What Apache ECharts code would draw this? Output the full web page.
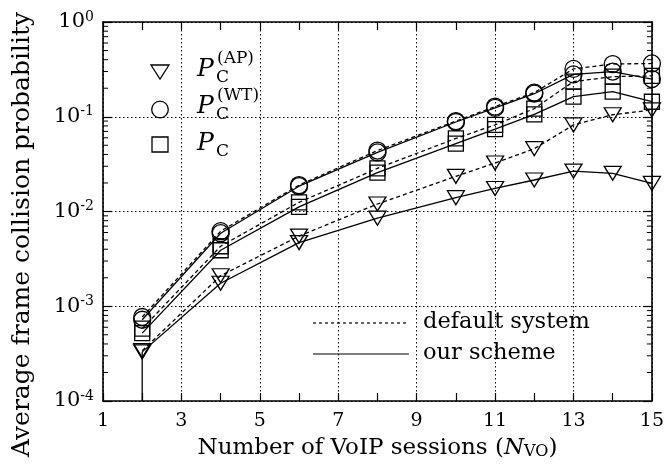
<!DOCTYPE html>
<html>
<head>
<meta charset="utf-8">
<script src="https://cdn.jsdelivr.net/npm/echarts@6/dist/echarts.min.js"></script>
<style>html,body{margin:0;padding:0;background:#fff}#c{width:667px;height:475px}</style>
</head>
<body>
<div id="c"></div>
<script>
// ---- data ----
const nSessions = [2, 4, 6, 8, 10, 11, 12, 13, 14, 15];
const apDefault = [3.4e-4, 2.1e-3, 5.5e-3, 1.2e-2, 2.35e-2, 3.25e-2, 4.6e-2, 8.2e-2, 0.105, 0.118];
const apOurs    = [3.3e-4, 1.75e-3, 4.7e-3, 8.5e-3, 1.4e-2, 1.75e-2, 2.15e-2, 2.67e-2, 2.53e-2, 1.98e-2];
const wtDefault = [7.7e-4, 6.2e-3, 1.9e-2, 4.4e-2, 9.0e-2, 0.128, 0.18, 0.32, 0.36, 0.365];
const wtOurs    = [7.2e-4, 5.9e-3, 1.85e-2, 4.2e-2, 8.8e-2, 0.124, 0.175, 0.28, 0.30, 0.25];
const pcDefault = [5.8e-4, 4.3e-3, 1.25e-2, 2.85e-2, 5.9e-2, 8.2e-2, 0.122, 0.235, 0.265, 0.27];
const pcOurs    = [5.2e-4, 3.9e-3, 1.12e-2, 2.57e-2, 5.2e-2, 7.4e-2, 0.106, 0.163, 0.184, 0.144];
const xTicks = [1, 3, 5, 7, 9, 11, 13, 15];
const yMin = 1e-4, yMax = 1;
const decades = [1e-4, 1e-3, 1e-2, 1e-1];
const minorMult = [2, 3, 4, 5, 6, 7, 8, 9];

const FONT = '"DejaVu Serif", "Liberation Serif", serif';
const BLACK = '#000';
const pairs = (ys) => nSessions.map((x, i) => [x, ys[i]]);
const minorVals = [];
decades.forEach(d => minorMult.forEach(m => minorVals.push([xTicks[0], d * m])));

const chart = echarts.init(document.getElementById('c'), null, {renderer: 'canvas'});

const tri = {symbol: 'triangle', symbolRotate: 180, symbolSize: [17, 14]};
const cir = {symbol: 'circle', symbolSize: 17};
const sq  = {symbol: 'rect', symbolSize: 15};
function mk(name, ys, sym, dashed) {
  return Object.assign({
    type: 'line', name, data: pairs(ys),
    xAxisIndex: 0, yAxisIndex: 0,
    lineStyle: {color: BLACK, width: 1.3, type: dashed ? [4, 3] : 'solid'},
    itemStyle: {color: 'rgba(0,0,0,0)', borderColor: BLACK, borderWidth: 1.3},
    emphasis: {disabled: true}, z: 3
  }, sym);
}

const axisLineStyle = {color: BLACK, width: 1.6};
const option = {
  animation: false,
  backgroundColor: '#fff',
  grid: {left: 103, right: 14, top: 22, bottom: 74, containLabel: false},
  xAxis: [
    {
      type: 'value', min: xTicks[0], max: xTicks[xTicks.length - 1], interval: 2, position: 'bottom',
      axisLine: {show: true, lineStyle: axisLineStyle},
      axisTick: {show: true, inside: true, length: 8, lineStyle: {color: BLACK, width: 1.2}},
      minorTick: {show: true, splitNumber: 2, length: 8, lineStyle: {color: BLACK, width: 1.2}},
      axisLabel: {color: BLACK, fontSize: 19, fontFamily: FONT, margin: 11},
      splitLine: {show: true, lineStyle: {color: BLACK, width: 1, type: [1.5, 2.5]}},
      name: 'Number of VoIP sessions ({it|N}{sub|VO})',
      nameLocation: 'middle', nameGap: 35,
      nameTextStyle: {color: BLACK, fontSize: 23, fontFamily: FONT,
        rich: {
          it: {fontSize: 23, fontFamily: FONT, fontStyle: 'italic', color: BLACK},
          sub: {fontSize: 16, fontFamily: FONT, color: BLACK, verticalAlign: 'bottom', padding: [8, 0, 0, 0]}
        }}
    },
    {
      type: 'value', min: xTicks[0], max: xTicks[xTicks.length - 1], interval: 2, position: 'top',
      axisLine: {show: true, lineStyle: axisLineStyle},
      axisTick: {show: true, inside: true, length: 8, lineStyle: {color: BLACK, width: 1.2}},
      minorTick: {show: true, splitNumber: 2, length: 8, lineStyle: {color: BLACK, width: 1.2}},
      axisLabel: {show: false}, splitLine: {show: false}
    }
  ],
  yAxis: [
    {
      type: 'log', logBase: 10, min: yMin, max: yMax, position: 'left',
      axisLine: {show: true, lineStyle: axisLineStyle},
      axisTick: {show: true, inside: true, length: 9, lineStyle: {color: BLACK, width: 1.2}},
      axisLabel: {
        color: BLACK, fontSize: 21, fontFamily: FONT, margin: 9,
        formatter: (v) => '10{sup|' + Math.round(Math.log10(v)) + '}',
        rich: {sup: {fontSize: 14, fontFamily: FONT, color: BLACK, verticalAlign: 'top', padding: [0, 0, 10, 0]}}
      },
      splitLine: {show: true, lineStyle: {color: BLACK, width: 1, type: [1.5, 2.5]}},
      name: 'Average frame collision probability',
      nameLocation: 'middle', nameGap: 68,
      nameTextStyle: {color: BLACK, fontSize: 25, fontFamily: FONT, padding: [0, 46, 0, 0]}
    },
    {
      type: 'log', logBase: 10, min: yMin, max: yMax, position: 'right',
      axisLine: {show: true, lineStyle: axisLineStyle},
      axisTick: {show: true, inside: true, length: 9, lineStyle: {color: BLACK, width: 1.2}},
      axisLabel: {show: false}, splitLine: {show: false}
    }
  ],
  series: [
    {
      type: 'custom', coordinateSystem: 'cartesian2d', xAxisIndex: 0, yAxisIndex: 0,
      data: minorVals, silent: true, clip: false, z: 2,
      renderItem: (params, api) => {
        const v = api.value(1);
        const l = api.coord([xTicks[0], v]);
        const r = api.coord([xTicks[xTicks.length - 1], v]);
        const st = {stroke: BLACK, lineWidth: 1};
        return {type: 'group', children: [
          {type: 'line', shape: {x1: l[0], y1: l[1], x2: l[0] + 5, y2: l[1]}, style: st},
          {type: 'line', shape: {x1: r[0] - 5, y1: r[1], x2: r[0], y2: r[1]}, style: st}
        ]};
      }
    },
    {
      type: 'line', name: 'drop', data: [[nSessions[0], yMin], [nSessions[0], apOurs[0]]],
      symbol: 'none', lineStyle: {color: BLACK, width: 1.3}, z: 3, emphasis: {disabled: true}
    },
    mk('AP default', apDefault, tri, true),
    mk('AP ours', apOurs, tri, false),
    mk('WT default', wtDefault, cir, true),
    mk('WT ours', wtOurs, cir, false),
    mk('PC default', pcDefault, sq, true),
    mk('PC ours', pcOurs, sq, false)
  ],
  graphic: [
    // marker legend
    {type: 'polygon', shape: {points: [[151, 65], [169, 65], [160, 79]]}, style: {fill: 'none', stroke: BLACK, lineWidth: 1.3}},
    {type: 'circle', shape: {cx: 160, cy: 109.5, r: 8.3}, style: {fill: 'none', stroke: BLACK, lineWidth: 1.3}},
    {type: 'rect', shape: {x: 152, y: 137, width: 16, height: 15}, style: {fill: 'none', stroke: BLACK, lineWidth: 1.3}},
    {type: 'text', x: 197, y: 69, style: {text: 'P', font: 'italic 25px ' + FONT, fill: BLACK, verticalAlign: 'middle'}},
    {type: 'text', x: 216, y: 78, style: {text: 'C', font: '17px ' + FONT, fill: BLACK, verticalAlign: 'middle'}},
    {type: 'text', x: 217, y: 59, style: {text: '(AP)', font: '17px ' + FONT, fill: BLACK, verticalAlign: 'middle'}},
    {type: 'text', x: 197, y: 106, style: {text: 'P', font: 'italic 25px ' + FONT, fill: BLACK, verticalAlign: 'middle'}},
    {type: 'text', x: 216, y: 115, style: {text: 'C', font: '17px ' + FONT, fill: BLACK, verticalAlign: 'middle'}},
    {type: 'text', x: 217, y: 96, style: {text: '(WT)', font: '17px ' + FONT, fill: BLACK, verticalAlign: 'middle'}},
    {type: 'text', x: 197, y: 143, style: {text: 'P', font: 'italic 25px ' + FONT, fill: BLACK, verticalAlign: 'middle'}},
    {type: 'text', x: 216, y: 152, style: {text: 'C', font: '17px ' + FONT, fill: BLACK, verticalAlign: 'middle'}},
    // line-style legend
    {type: 'line', shape: {x1: 313, y1: 323, x2: 409, y2: 323}, style: {stroke: BLACK, lineWidth: 1.2, lineDash: [3, 3]}},
    {type: 'line', shape: {x1: 313, y1: 354, x2: 409, y2: 354}, style: {stroke: BLACK, lineWidth: 1.2}},
    {type: 'text', x: 423, y: 322, style: {text: 'default system', font: '22.5px ' + FONT, fill: BLACK, verticalAlign: 'middle'}},
    {type: 'text', x: 423, y: 353, style: {text: 'our scheme', font: '22.5px ' + FONT, fill: BLACK, verticalAlign: 'middle'}}
  ]
};
chart.setOption(option);
</script>
</body>
</html>
